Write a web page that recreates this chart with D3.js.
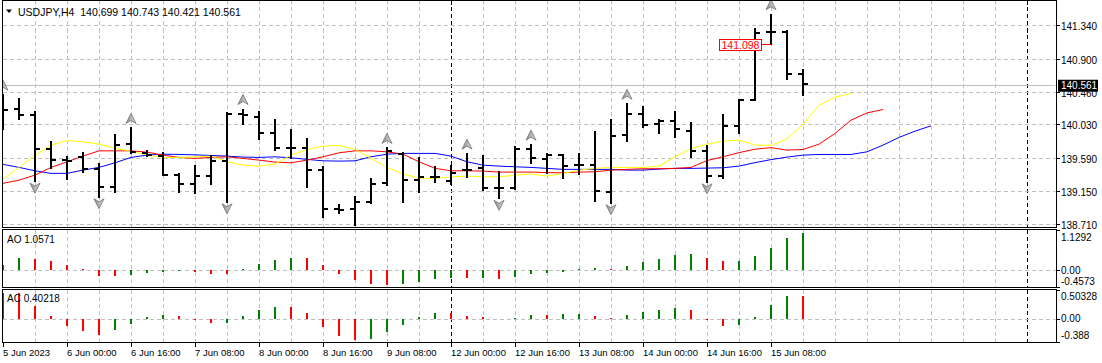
<!DOCTYPE html>
<html>
<head>
<meta charset="utf-8">
<script src="https://cdn.jsdelivr.net/npm/d3@7"></script>
<style>
  body { margin: 0; background: #fff; }
  svg text { font-family: "Liberation Sans", Arial, sans-serif; fill: #000; }
</style>
</head>
<body>
<svg id="chart" width="1102" height="363"></svg>
<script>
const symbol = "USDJPY,H4";

// H4 bars, 5 Jun 08:00 .. 15 Jun 16:00
const opens = [140.300, 140.231, 140.156, 139.703, 139.554, 139.594, 139.436, 139.206, 139.765, 139.647,
  139.611, 139.360, 139.246, 139.351, 139.549, 140.174, 140.130, 139.911, 139.721, 139.721,
  139.422, 138.908, 138.908, 139.008, 139.251, 139.637, 139.294, 139.338, 139.281, 139.426,
  139.449, 139.185, 139.185, 139.699, 139.575, 139.628, 139.488, 139.492, 139.140, 139.888,
  140.174, 140.033, 140.077, 139.945, 139.677, 139.347, 140.011, 140.350, 141.245, 141.247,
  140.699];
const highs = [140.416, 140.372, 140.188, 139.796, 139.594, 139.655, 139.502, 139.888, 139.977, 139.677,
  139.655, 139.370, 139.479, 139.611, 140.182, 140.227, 140.196, 140.086, 139.954, 139.831,
  139.462, 138.965, 139.066, 139.308, 139.713, 139.655, 139.581, 139.462, 139.479, 139.637,
  139.611, 139.404, 139.734, 139.756, 139.637, 139.630, 139.633, 139.932, 140.095, 140.297,
  140.261, 140.086, 140.188, 140.050, 139.743, 140.161, 140.359, 141.296, 141.480, 141.264,
  140.743];
const lows = [139.963, 140.108, 139.280, 139.449, 139.310, 139.404, 139.074, 139.140, 139.650, 139.611,
  139.355, 139.132, 139.119, 139.238, 139.008, 140.042, 139.831, 139.690, 139.581, 139.206,
  138.802, 138.863, 138.700, 138.995, 139.228, 139.008, 139.140, 139.272, 139.242, 139.338,
  139.163, 139.053, 139.172, 139.515, 139.383, 139.317, 139.370, 139.021, 138.995, 139.813,
  139.998, 139.918, 139.858, 139.602, 139.272, 139.325, 139.918, 140.350, 141.089, 140.636,
  140.421];
const closes = [140.227, 140.161, 139.703, 139.562, 139.550, 139.444, 139.206, 139.752, 139.660, 139.620,
  139.360, 139.246, 139.351, 139.541, 140.174, 140.161, 139.918, 139.713, 139.713, 139.422,
  138.908, 138.900, 139.008, 139.242, 139.677, 139.290, 139.338, 139.340, 139.391, 139.430,
  139.193, 139.185, 139.703, 139.581, 139.628, 139.483, 139.490, 139.153, 139.875, 140.174,
  140.020, 140.077, 139.967, 139.681, 139.347, 140.011, 140.350, 141.238, 141.245, 140.697,
  140.561];

// Alligator (shifted forward past the last bar)
const jaw = [139.502, 139.462, 139.417, 139.383, 139.383, 139.426, 139.462, 139.523, 139.594, 139.624,
  139.637, 139.633, 139.628, 139.620, 139.611, 139.598, 139.594, 139.602, 139.589, 139.568,
  139.549, 139.545, 139.549, 139.602, 139.637, 139.647, 139.647, 139.647, 139.611, 139.536,
  139.492, 139.479, 139.470, 139.462, 139.449, 139.436, 139.436, 139.436, 139.436, 139.426,
  139.426, 139.440, 139.449, 139.449, 139.453, 139.457, 139.479, 139.525, 139.565, 139.598,
  139.624, 139.633, 139.633, 139.633, 139.668, 139.756, 139.858, 139.941, 140.011];
const teeth = [139.251, 139.294, 139.360, 139.462, 139.536, 139.611, 139.681, 139.681, 139.681, 139.664,
  139.624, 139.594, 139.581, 139.594, 139.602, 139.581, 139.558, 139.532, 139.523, 139.558,
  139.602, 139.655, 139.681, 139.681, 139.668, 139.637, 139.536, 139.449, 139.417, 139.417,
  139.413, 139.400, 139.400, 139.400, 139.393, 139.391, 139.400, 139.404, 139.426, 139.436,
  139.444, 139.444, 139.449, 139.462, 139.552, 139.602, 139.657, 139.703, 139.723, 139.690,
  139.699, 139.769, 139.911, 140.086, 140.182, 140.227];
const lips = [139.308, 139.462, 139.624, 139.756, 139.818, 139.800, 139.769, 139.713, 139.677, 139.624,
  139.594, 139.594, 139.602, 139.611, 139.536, 139.492, 139.479, 139.506, 139.624, 139.699,
  139.743, 139.752, 139.699, 139.581, 139.462, 139.374, 139.317, 139.317, 139.338, 139.347,
  139.338, 139.338, 139.360, 139.374, 139.347, 139.383, 139.426, 139.449, 139.462, 139.462,
  139.462, 139.479, 139.602, 139.713, 139.769, 139.809, 139.822, 139.756, 139.752, 139.838,
  140.033, 140.284, 140.393, 140.438];

const fractalUp = [0, 8, 15, 24, 29, 33, 39, 48];
const fractalDown = [2, 6, 14, 22, 31, 38, 44];

const aoValues = [0.159, 0.337, 0.309, 0.253, 0.140, 0.028, -0.165, -0.170, -0.140, -0.084,
  -0.056, -0.028, -0.056, -0.110, -0.115, 0.028, 0.168, 0.281, 0.345, 0.337,
  0.140, -0.112, -0.281, -0.393, -0.421, -0.393, -0.337, -0.253, -0.225, -0.230,
  -0.225, -0.232, -0.197, -0.112, -0.084, -0.056, 0.028, 0.056, 0.025, 0.112,
  0.225, 0.309, 0.421, 0.449, 0.337, 0.253, 0.260, 0.393, 0.618, 0.899,
  1.0571];
const acValues = [0.460, 0.449, 0.230, 0.058, -0.115, -0.201, -0.271, -0.184, -0.081, 0.040,
  0.075, 0.058, -0.008, -0.063, -0.060, 0.058, 0.161, 0.213, 0.208, 0.109,
  -0.132, -0.288, -0.357, -0.340, -0.219, -0.098, 0.040, 0.109, 0.105, 0.058,
  0.040, 0.006, 0.023, 0.075, 0.070, 0.092, 0.095, 0.058, 0.023, 0.075,
  0.127, 0.161, 0.196, 0.161, -0.006, -0.115, -0.098, 0.040, 0.248, 0.410,
  0.40218];

const markPrice = 141.098;
const markBar = 48;

const timeLabels = ["5 Jun 2023", "6 Jun 00:00", "6 Jun 16:00", "7 Jun 08:00", "8 Jun 00:00",
  "8 Jun 16:00", "9 Jun 08:00", "12 Jun 00:00", "12 Jun 16:00", "13 Jun 08:00",
  "14 Jun 00:00", "14 Jun 16:00", "15 Jun 08:00"];
const timeLabelBars = [0, 4, 8, 12, 16, 20, 24, 28, 32, 36, 40, 44, 48];
const separatorBars = [28, 64];

const priceTicks = [141.340, 140.900, 140.460, 140.030, 139.590, 139.150, 138.710];
const aoTicks = [1.1292, 0, -0.4573];
const aoTickLabels = ["1.1292", "0.00", "-0.4573"];
const acTicks = [0.50328, 0, -0.388];
const acTickLabels = ["0.50328", "0.00", "-0.388"];

const GREEN = "#008000";
const RED = "#ff0000";
const GRID = "#c0c0c0";

const left = 2.5;
const right = 1056;
const panels = {
  main: { top: 0.5, bottom: 227.5 },
  ao: { top: 229.5, bottom: 287.5 },
  ac: { top: 289.5, bottom: 342.5 },
};

const svg = d3.select("#chart");
const x = d3.scaleLinear().domain([0, 65]).range([3, 3 + 16 * 65]);
const yMain = d3.scaleLinear().domain([138.71, 141.34]).range([224.3, 25.3]);
const yAO = d3.scaleLinear().domain([-0.469, 1.146]).range([287, 229.5]);
const yAC = d3.scaleLinear().domain([-0.392, 0.523]).range([342, 289]);

const defs = svg.append("defs");
Object.entries(panels).forEach(([name, p]) => {
  defs.append("clipPath").attr("id", `clip-${name}`)
    .append("rect")
    .attr("x", left + 0.5).attr("y", p.top + 0.5)
    .attr("width", right - left - 1).attr("height", p.bottom - p.top - 1);
});
const grad = defs.append("linearGradient").attr("id", "arrow-fill")
  .attr("x1", 0).attr("x2", 1).attr("y1", 0).attr("y2", 0);
grad.append("stop").attr("offset", 0).attr("stop-color", "#8c8c8c");
grad.append("stop").attr("offset", 1).attr("stop-color", "#dcdcdc");

svg.append("rect").attr("width", 1102).attr("height", 363).attr("fill", "#fff");

const gridXs = d3.range(1, 33).map((k) => 2 * k).filter((b) => !separatorBars.includes(b));

// grids and separators for every panel
Object.entries(panels).forEach(([name, p]) => {
  const g = svg.append("g").attr("clip-path", `url(#clip-${name})`)
    .attr("shape-rendering", "crispEdges");
  g.selectAll("line.vgrid").data(gridXs).join("line")
    .attr("class", "vgrid")
    .attr("x1", (b) => x(b) + 0.5).attr("x2", (b) => x(b) + 0.5)
    .attr("y1", p.top).attr("y2", p.bottom)
    .attr("stroke", GRID).attr("stroke-dasharray", "4,3");
  g.selectAll("line.sep").data(separatorBars).join("line")
    .attr("class", "sep")
    .attr("x1", (b) => x(b) + 0.5).attr("x2", (b) => x(b) + 0.5)
    .attr("y1", p.top).attr("y2", p.bottom)
    .attr("stroke", "#000").attr("stroke-dasharray", "4,3");
  p.g = svg.append("g").attr("clip-path", `url(#clip-${name})`);
});

const hGrid = (panel, scale, values) => {
  panel.g.append("g").attr("shape-rendering", "crispEdges")
    .selectAll("line").data(values).join("line")
    .attr("x1", left).attr("x2", right)
    .attr("y1", (v) => Math.round(scale(v)) + 0.5)
    .attr("y2", (v) => Math.round(scale(v)) + 0.5)
    .attr("stroke", GRID).attr("stroke-dasharray", "4,3");
};
hGrid(panels.main, yMain, priceTicks);
hGrid(panels.ao, yAO, [0]);
hGrid(panels.ac, yAC, [0]);

// bid line
const lastClose = closes[closes.length - 1];
panels.main.g.append("line")
  .attr("x1", left).attr("x2", right)
  .attr("y1", Math.round(yMain(lastClose)) + 1.5)
  .attr("y2", Math.round(yMain(lastClose)) + 1.5)
  .attr("stroke", GRID).attr("shape-rendering", "crispEdges");

// alligator
const drawLine = (values, color) => {
  panels.main.g.append("path")
    .datum(values)
    .attr("fill", "none")
    .attr("stroke", color)
    .attr("stroke-width", 1)
    .attr("d", d3.line().x((v, i) => x(i)).y((v) => yMain(v)));
};
drawLine(jaw, "#0000ff");
drawLine(teeth, "#ff0000");
drawLine(lips, "#ffff00");

// OHLC bars
const bars = panels.main.g.append("g")
  .attr("stroke", "#000").attr("stroke-width", 2)
  .attr("shape-rendering", "crispEdges");
opens.forEach((o, i) => {
  const bx = x(i);
  bars.append("line").attr("x1", bx).attr("x2", bx)
    .attr("y1", Math.round(yMain(highs[i])) - 1).attr("y2", Math.round(yMain(lows[i])) + 1);
  bars.append("line").attr("x1", bx - 5).attr("x2", bx)
    .attr("y1", Math.round(yMain(o))).attr("y2", Math.round(yMain(o)));
  bars.append("line").attr("x1", bx).attr("x2", bx + 5)
    .attr("y1", Math.round(yMain(closes[i]))).attr("y2", Math.round(yMain(closes[i])));
});

// fractals
const arrows = panels.main.g.append("g")
  .attr("fill", "url(#arrow-fill)").attr("stroke", "#7a7a7a").attr("stroke-width", 0.9);
arrows.selectAll("path.up").data(fractalUp).join("path")
  .attr("class", "up")
  .attr("transform", (i) => `translate(${x(i)},${yMain(highs[i]) - 10})`)
  .attr("d", "M0,-5 L5,5 L0,2 L-5,5 Z");
arrows.selectAll("path.down").data(fractalDown).join("path")
  .attr("class", "down")
  .attr("transform", (i) => `translate(${x(i)},${yMain(lows[i]) + 7})`)
  .attr("d", "M0,5 L5,-5 L0,-2 L-5,-5 Z");

// price mark label
const markY = Math.round(yMain(markPrice)) + 0.5;
const markX = x(markBar);
panels.main.g.append("line")
  .attr("x1", markX - 10).attr("x2", markX).attr("y1", markY).attr("y2", markY)
  .attr("stroke", RED).attr("shape-rendering", "crispEdges");
panels.main.g.append("rect")
  .attr("x", markX - 51.5).attr("y", markY - 5).attr("width", 42).attr("height", 11)
  .attr("fill", "#fff").attr("stroke", RED).attr("shape-rendering", "crispEdges");
panels.main.g.append("text")
  .attr("x", markX - 49.5).attr("y", markY + 0.5)
  .attr("dominant-baseline", "central")
  .attr("font-size", "10.5px")
  .style("fill", RED)
  .text(markPrice.toFixed(3));

// AO / AC histograms
const histogram = (panel, scale, values) => {
  panel.g.append("g").attr("stroke-width", 2).attr("shape-rendering", "crispEdges")
    .selectAll("line").data(values).join("line")
    .attr("x1", (v, i) => x(i)).attr("x2", (v, i) => x(i))
    .attr("y1", Math.round(scale(0)))
    .attr("y2", (v) => Math.round(scale(v)))
    .attr("stroke", (v, i) => (i === 0 || v > values[i - 1] ? GREEN : RED));
};
histogram(panels.ao, yAO, aoValues);
histogram(panels.ac, yAC, acValues);

// panel borders
Object.values(panels).forEach((p) => {
  svg.append("rect")
    .attr("x", left).attr("y", p.top)
    .attr("width", right - left).attr("height", p.bottom - p.top)
    .attr("fill", "none").attr("stroke", "#000")
    .attr("shape-rendering", "crispEdges");
});

// right price scale
const axisLabels = (scale, values, labels, offsets) => {
  const g = svg.append("g");
  g.selectAll("line").data(values).join("line")
    .attr("x1", right).attr("x2", right + 4)
    .attr("y1", (v) => Math.round(scale(v)) + 0.5)
    .attr("y2", (v) => Math.round(scale(v)) + 0.5)
    .attr("stroke", "#000").attr("shape-rendering", "crispEdges");
  g.selectAll("text").data(values).join("text")
    .attr("x", 1061)
    .attr("y", (v, i) => scale(v) + offsets[i])
    .attr("dominant-baseline", "central")
    .attr("font-size", "10px")
    .text((v, i) => labels[i]);
};
axisLabels(yMain, priceTicks, priceTicks.map((v) => v.toFixed(3)), priceTicks.map(() => 1.5));
axisLabels(yAO, aoTicks, aoTickLabels, [7, 0.5, -5.5]);
axisLabels(yAC, acTicks, acTickLabels, [6.5, -0.5, -6]);

const bidY = yMain(lastClose) + 1.5;
svg.append("rect")
  .attr("x", 1058).attr("y", bidY - 6).attr("width", 40).attr("height", 12)
  .attr("fill", "#000");
svg.append("text")
  .attr("x", 1061).attr("y", bidY)
  .attr("dominant-baseline", "central")
  .attr("font-size", "10px")
  .style("fill", "#fff")
  .text(lastClose.toFixed(3));

// time scale
const timeAxis = svg.append("g");
timeAxis.selectAll("line").data(timeLabelBars).join("line")
  .attr("x1", (b) => x(b) + 0.5).attr("x2", (b) => x(b) + 0.5)
  .attr("y1", panels.ac.bottom).attr("y2", panels.ac.bottom + 4)
  .attr("stroke", "#000").attr("shape-rendering", "crispEdges");
timeAxis.selectAll("text").data(timeLabelBars).join("text")
  .attr("x", (b) => x(b))
  .attr("y", 356)
  .attr("font-size", "9.5px")
  .text((b, i) => timeLabels[i]);

// headers
const last = opens.length - 1;
svg.append("path").attr("d", "M6,9.5 L12,9.5 L9,13 Z").attr("fill", "#000");
svg.append("text")
  .attr("x", 18).attr("y", 11.5)
  .attr("dominant-baseline", "central")
  .attr("font-size", "10.5px")
  .style("white-space", "pre")
  .text(`${symbol}  ${opens[last].toFixed(3)} ${highs[last].toFixed(3)} ${lows[last].toFixed(3)} ${closes[last].toFixed(3)}`);
svg.append("text")
  .attr("x", 7).attr("y", 239)
  .attr("dominant-baseline", "central")
  .attr("font-size", "10px")
  .text(`AO ${aoValues[last].toFixed(4)}`);
svg.append("text")
  .attr("x", 7).attr("y", 298.5)
  .attr("dominant-baseline", "central")
  .attr("font-size", "10px")
  .text(`AC ${acValues[last].toFixed(5)}`);
</script>
</body>
</html>
